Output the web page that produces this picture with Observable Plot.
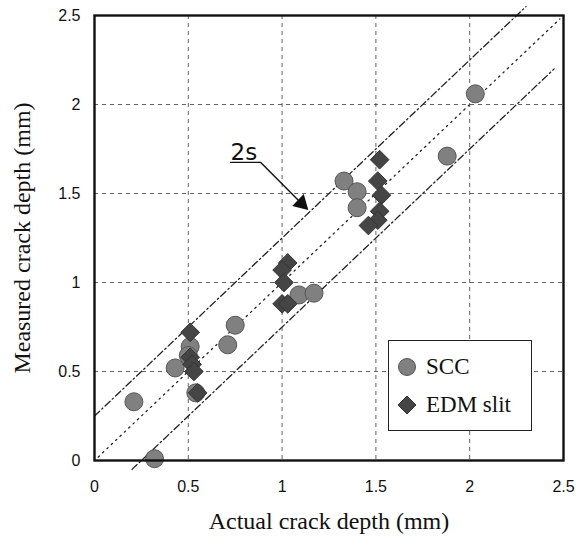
<!DOCTYPE html>
<html>
<head>
<meta charset="utf-8">
<script src="https://cdn.jsdelivr.net/npm/d3@7"></script>
<script src="https://cdn.jsdelivr.net/npm/@observablehq/plot@0.6"></script>
<style>
  body { margin: 0; background: #fff; }
  #wrap { position: relative; width: 576px; height: 545px; }
  #legend { position: absolute; left: 388px; top: 340px; width: 144px; height: 91px;
            border: 1.2px solid #222; background: #fff; box-sizing: border-box;
            font-family: "Liberation Serif", "Times New Roman", serif; font-size: 23px; color: #111; }
  .row { position: absolute; left: 8px; display: flex; align-items: center; }
  .row svg { margin-right: 9px; }
</style>
</head>
<body>
<div id="wrap"></div>
<script>
// ---- data ----
const sccX = [0.21, 0.32, 0.43, 0.51, 0.50, 0.54, 0.71, 0.75, 1.09, 1.17, 1.33, 1.40, 1.40, 1.88, 2.03];
const sccY = [0.33, 0.01, 0.52, 0.64, 0.59, 0.38, 0.65, 0.76, 0.93, 0.94, 1.57, 1.51, 1.42, 1.71, 2.06];
const edmX = [0.55, 0.51, 0.51, 0.52, 0.53, 1.03, 1.00, 1.01, 1.00, 1.03, 1.52, 1.51, 1.53, 1.52, 1.51, 1.46];
const edmY = [0.38, 0.72, 0.58, 0.54, 0.50, 1.11, 1.07, 1.00, 0.88, 0.88, 1.69, 1.57, 1.49, 1.40, 1.35, 1.32];
const xTicks = [0, 0.5, 1, 1.5, 2, 2.5];
const yTicks = [0, 0.5, 1, 1.5, 2, 2.5];
const gridTicks = [0.5, 1, 1.5, 2];
// fitted line and ±2s band end points
const centerX = [0.02, 2.48], centerY = [0.02, 2.48];
const upperX = [0.00, 2.30], upperY = [0.25, 2.55];
const lowerX = [0.20, 2.45], lowerY = [-0.05, 2.20];
// "2s" annotation leader
const annotX = [0.725, 0.885, 1.125], annotY = [1.675, 1.675, 1.421];
const headX = [1.103], headY = [1.445];
const seriesNames = ["SCC", "EDM slit"];

const scc = sccX.map((x, i) => ({x, y: sccY[i]}));
const edm = edmX.map((x, i) => ({x, y: edmY[i]}));
const line = (xs, ys) => xs.map((x, i) => ({x, y: ys[i]}));
const annot = line(annotX, annotY);
const head = line(headX, headY);

const serif = "Liberation Serif, Times New Roman, serif";

const chart = Plot.plot({
  width: 576, height: 545,
  marginLeft: 94, marginRight: 13, marginTop: 15, marginBottom: 85,
  x: {domain: [0, 2.5]},
  y: {domain: [0, 2.5]},
  style: {fontFamily: "Liberation Sans, Arial, sans-serif", fontSize: "16px", color: "#111", background: "#fff"},
  marks: [
    Plot.gridX(gridTicks, {stroke: "#333", strokeOpacity: 0.85, strokeDasharray: "4,4", strokeWidth: 0.9}),
    Plot.gridY(gridTicks, {stroke: "#333", strokeOpacity: 0.85, strokeDasharray: "4,4", strokeWidth: 0.9}),
    Plot.line(line(centerX, centerY), {x: "x", y: "y", stroke: "#222", strokeWidth: 1.3, strokeDasharray: "1.5,4.5"}),
    Plot.line(line(upperX, upperY), {x: "x", y: "y", stroke: "#222", strokeWidth: 1.3, strokeDasharray: "7,3,1.5,3"}),
    Plot.line(line(lowerX, lowerY), {x: "x", y: "y", stroke: "#222", strokeWidth: 1.3, strokeDasharray: "7,3,1.5,3"}),
    Plot.dot(scc, {x: "x", y: "y", r: 9, fill: "#808080", stroke: "#555", strokeWidth: 1}),
    Plot.dot(edm, {x: "x", y: "y", symbol: "diamond2", r: 8.4, fill: "#454545", stroke: "#333", strokeWidth: 1}),
    Plot.frame({stroke: "#111", strokeWidth: 2.4}),
    Plot.axisX(xTicks, {tickSize: 0, tickPadding: 20, label: null, tickFormat: d => String(d)}),
    Plot.axisY(yTicks, {tickSize: 0, tickPadding: 14, label: null, tickFormat: d => String(d)}),
    Plot.text(["Actual crack depth (mm)"], {frameAnchor: "bottom", lineAnchor: "middle", textAnchor: "middle", dy: 61, fontFamily: serif, fontSize: 24, fill: "#111"}),
    Plot.text(["Measured crack depth (mm)"], {frameAnchor: "left", lineAnchor: "middle", textAnchor: "middle", dx: -72, rotate: -90, fontFamily: serif, fontSize: 24, fill: "#111"}),
    Plot.line(annot, {x: "x", y: "y", stroke: "#111", strokeWidth: 1.4}),
    Plot.dot(head, {x: "x", y: "y", symbol: "triangle", r: 5.2, rotate: 134, fill: "#111", stroke: "#111"}),
    Plot.text([annot[0]], {x: "x", y: "y", text: () => "2s", textAnchor: "start", lineAnchor: "bottom", dy: -2, dx: 0, fontFamily: "DejaVu Sans, sans-serif", fontSize: 23, fill: "#111"})
  ]
});

const wrap = document.getElementById("wrap");
wrap.appendChild(chart);

// legend
const legend = document.createElement("div");
legend.id = "legend";
legend.innerHTML = `
  <div class="row" style="top:13px"><svg width="20" height="20"><circle cx="10" cy="10" r="8.5" fill="#808080" stroke="#555"/></svg><span>${seriesNames[0]}</span></div>
  <div class="row" style="top:51px"><svg width="20" height="20"><path d="M10 1 L19 10 L10 19 L1 10 Z" fill="#454545" stroke="#333"/></svg><span>${seriesNames[1]}</span></div>`;
wrap.appendChild(legend);
</script>
</body>
</html>
